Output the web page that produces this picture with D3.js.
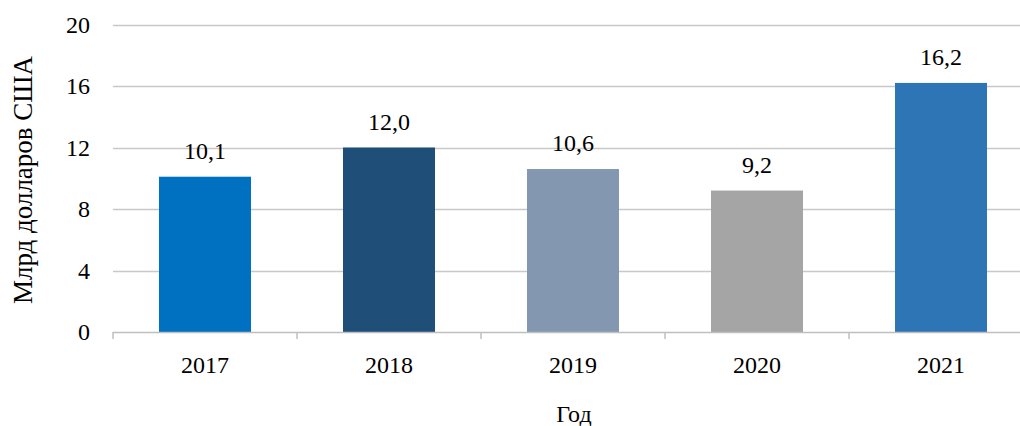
<!DOCTYPE html>
<html><head><meta charset="utf-8">
<script src="https://cdn.jsdelivr.net/npm/d3@7"></script>
<style>body{margin:0;background:#fff}svg{display:block}</style>
</head><body><svg id="c" width="1020" height="426"></svg>
<script>
const categories = ["2017","2018","2019","2020","2021"];
const values = [10.1, 12.0, 10.6, 9.2, 16.2];
const labels = ["10,1","12,0","10,6","9,2","16,2"];
const colors = ["#0070C0","#1F4E79","#8497B0","#A5A5A5","#2E75B6"];
const yTicks = [0,4,8,12,16,20];
const yTitle = "Млрд долларов США";
const xTitle = "Год";

(function(){
const FONT = "'Liberation Serif'";
const svg = d3.select("#c");
const pLeft = 113, pRight = 1033, pTop = 24.5, pBottom = 332;
const x = d3.scaleBand().domain(categories).range([pLeft, pRight]).paddingInner(0.5).paddingOuter(0.25);
const y = d3.scaleLinear().domain([0,20]).range([pBottom, pTop]);

svg.append("g").selectAll("line").data(yTicks.filter(d=>d>0)).join("line")
  .attr("x1", pLeft).attr("x2", pRight).attr("y1", d=>Math.round(y(d))+0.5).attr("y2", d=>Math.round(y(d))+0.5)
  .attr("stroke", "#C8C8C8").attr("stroke-width", 1.5);

svg.append("g").selectAll("rect").data(categories).join("rect")
  .attr("x", d=>x(d)).attr("width", x.bandwidth())
  .attr("y", (d,i)=>y(values[i])).attr("height", (d,i)=>pBottom - y(values[i]))
  .attr("fill", (d,i)=>colors[i]);

svg.append("g").selectAll("text").data(categories).join("text")
  .attr("font-family", FONT)
  .attr("x", d=>x(d)+x.bandwidth()/2).attr("y", (d,i)=>y(values[i]) - 18)
  .attr("text-anchor","middle").attr("font-size", 24).text((d,i)=>labels[i]);

const xOuter = d3.scaleLinear().domain([0, categories.length]).range([pLeft, pRight]);
const xa = svg.append("g");
xa.append("line").attr("x1", pLeft).attr("x2", pRight).attr("y1", pBottom+0.5).attr("y2", pBottom+0.5)
  .attr("stroke", "#BFBFBF").attr("stroke-width", 1.5);
xa.selectAll("line.t").data(d3.range(categories.length+1)).join("line").attr("class","t")
  .attr("x1", d=>xOuter(d)).attr("x2", d=>xOuter(d)).attr("y1", pBottom).attr("y2", pBottom+7)
  .attr("stroke", "#BFBFBF").attr("stroke-width", 1.5);
xa.selectAll("text").data(categories).join("text")
  .attr("font-family", FONT)
  .attr("x", d=>x(d)+x.bandwidth()/2).attr("y", 373)
  .attr("text-anchor","middle").attr("font-size", 24).text(d=>d);

svg.append("g").selectAll("text").data(yTicks).join("text")
  .attr("font-family", FONT)
  .attr("x", 90).attr("y", d=>y(d)+8)
  .attr("text-anchor","end").attr("font-size", 24).text(d=>d);

svg.append("text").attr("font-family", FONT).attr("x", 574).attr("y", 422).attr("text-anchor","middle").attr("font-size", 24).text(xTitle);
svg.append("text").attr("font-family", FONT).attr("transform","translate(32,180) rotate(-90)").attr("text-anchor","middle").attr("font-size", 27).text(yTitle);
})();
</script></body></html>
